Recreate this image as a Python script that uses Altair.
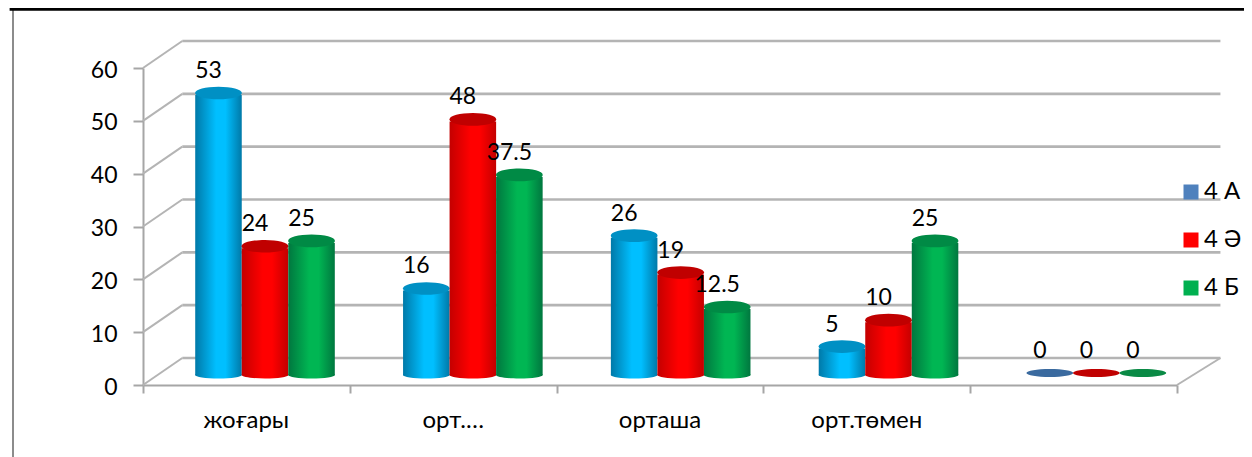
import altair as alt
import pandas as pd

categories = ["жоғары", "орт.…", "орташа", "орт.төмен", ""]
series_names = ["4 А", "4 Ә", "4 Б"]
values_a = [53, 16, 26, 5, 0]
values_b = [24, 48, 19, 10, 0]
values_c = [25, 37.5, 12.5, 25, 0]
legend_colors = ["#4F81BD", "#FF0000", "#00B050"]
edge_colors = ["#0079A8", "#C40000", "#00773F"]
mid_colors = ["#00BFFF", "#FF0000", "#00B653"]
cap_colors = ["#0090C4", "#C00000", "#008A45"]
flat_colors = ["#3A6A9F", "#C00000", "#0A8A45"]
FONT = "Lato"
GRID = "#B4B4B4"
AXIS = "#A6A6A6"
BAR_W = 0.225
DEPTH_X0, DEPTH_X1, DEPTH_Y = 0.19, 5.21, 5.11
ticks = [0, 10, 20, 30, 40, 50, 60]
x_ticks = [0, 1, 2, 3, 4, 5]

xs = alt.Scale(domain=[0, 5], nice=False, zero=False)
ys = alt.Scale(domain=[0, 60], nice=False, zero=False)
x_axis = alt.Axis(title=None, values=x_ticks, labels=False, grid=False,
                  domainColor=AXIS, domainWidth=2, tickColor=AXIS, tickWidth=2, tickSize=8)
y_axis = alt.Axis(title=None, values=ticks, grid=False, domainColor=AXIS, domainWidth=2,
                  tickColor=AXIS, tickWidth=2, tickSize=10, labelPadding=16, labelOffset=2,
                  labelFont=FONT, labelFontSize=23, labelColor="#000000")
X = lambda f: alt.X(f, type="quantitative", scale=xs, axis=x_axis)
Y = lambda f: alt.Y(f, type="quantitative", scale=ys, axis=y_axis)

rows = []
for s, vals in enumerate([values_a, values_b, values_c]):
    for i, v in enumerate(vals):
        c = i * 1.005 + 0.59 + (s - 1) * BAR_W
        rows.append(dict(series=series_names[s], s=s, cat=categories[i], value=v,
                         xc=c, x0=c - BAR_W / 2, x1=c + BAR_W / 2, zero=0))
df = pd.DataFrame(rows)

grid = pd.DataFrame({"v": ticks})
grid["vb"] = grid.v + DEPTH_Y
grid["x0"], grid["xb"], grid["xe"], grid["f"] = 0, DEPTH_X0, DEPTH_X1, 5

layers = []
# back wall grid
layers.append(alt.Chart(grid).mark_rule(color=GRID, strokeWidth=2.6).encode(
    x=X("xb"), x2="xe", y=Y("vb")))
# side wall slants
layers.append(alt.Chart(grid).mark_rule(color=GRID, strokeWidth=2).encode(
    x=X("x0"), x2="xb", y=Y("v"), y2="vb"))
# floor right edge
layers.append(alt.Chart(grid[grid.v == 0]).mark_rule(color=GRID, strokeWidth=2).encode(
    x=X("f"), x2="xe", y=Y("v"), y2="vb"))

top_shape = "M -1 0 A 1 0.27 0 1 1 1 0 A 1 0.27 0 1 1 -1 0 Z"
bot_shape = "M -1 0 A 1 0.15 0 1 1 1 0 A 1 0.15 0 1 1 -1 0 Z"
flat_shape = "M -1 0 A 1 0.17 0 1 1 1 0 A 1 0.17 0 1 1 -1 0 Z"
CAP_SIZE = 2190

for s in range(3):
    sd = df[(df.s == s) & (df.value > 0)]
    z = df[(df.s == s) & (df.value == 0)]
    grad = {"gradient": "linear", "x1": 0, "x2": 1, "y1": 0, "y2": 0, "stops": [
        {"offset": 0, "color": edge_colors[s]},
        {"offset": 0.45, "color": mid_colors[s]},
        {"offset": 0.65, "color": mid_colors[s]},
        {"offset": 1, "color": edge_colors[s]}]}
    layers.append(alt.Chart(sd).mark_point(shape=bot_shape, filled=True, opacity=1, size=CAP_SIZE,
                                           strokeWidth=0, color=grad, yOffset=-10).encode(
        x=X("xc"), y=Y("zero")))
    layers.append(alt.Chart(sd).mark_bar(color=grad, yOffset=-10, y2Offset=-10).encode(
        x=X("x0"), x2="x1", y=Y("value"), y2="zero"))
    layers.append(alt.Chart(sd).mark_point(shape=top_shape, filled=True, opacity=1, size=CAP_SIZE,
                                           strokeWidth=0, color=cap_colors[s], yOffset=-12).encode(
        x=X("xc"), y=Y("value")))
    layers.append(alt.Chart(z).mark_point(shape=flat_shape, filled=True, opacity=1, size=CAP_SIZE,
                                          strokeWidth=0, color=flat_colors[s], yOffset=-12).encode(
        x=X("xc"), y=Y("value")))

# data labels
layers.append(alt.Chart(df).mark_text(font=FONT, fontSize=23, color="#000000", dx=-10, dy=-34).encode(
    x=X("xc"), y=Y("value"), text=alt.Text("value:Q", format="~g")))

# category labels
cat_df = pd.DataFrame({"cat": categories, "u": [i + 0.5 for i in range(5)], "v": -6.8})
cat_df = cat_df[cat_df.cat != ""]
layers.append(alt.Chart(cat_df).mark_text(font=FONT, fontSize=24, color="#000000").encode(
    x=X("u"), y=Y("v"), text="cat:N"))

# legend
layers.append(alt.Chart(df).mark_point(filled=True, opacity=1, size=0).encode(
    x=X("zero"), y=Y("zero"),
    color=alt.Color("series:N", scale=alt.Scale(domain=series_names, range=legend_colors),
                    legend=alt.Legend(orient="none", legendX=1036, legendY=112, title=None,
                                      symbolType="square", symbolSize=225, symbolOpacity=1,
                                      symbolStrokeWidth=0, rowPadding=24, labelFont=FONT,
                                      labelFontSize=24, labelColor="#000000", labelOffset=1))))

# document frame and the bottom edge of the table above the chart
frame_left = pd.DataFrame({"x": [-0.6286], "y": [71.0], "y2": [-13.7]})
frame_top = pd.DataFrame({"x": [-0.645], "x2": [5.4], "y": [71.1]})
table_cols = pd.DataFrame({"x": [0.972, 1.939, 3.173, 4.130]})
table_cols["y"], table_cols["y2"] = 72.5, 71.1
layers.append(alt.Chart(frame_left).mark_rule(color="#8C8C8C", strokeWidth=2).encode(
    x=X("x"), y=Y("y"), y2="y2"))
layers.append(alt.Chart(frame_top).mark_rule(color="#000000", strokeWidth=3).encode(
    x=X("x"), x2="x2", y=Y("y")))
layers.append(alt.Chart(table_cols).mark_rule(color="#000000", strokeWidth=2).encode(
    x=X("x"), y=Y("y"), y2="y2"))

chart = alt.layer(*layers).properties(
    width=1034, height=317,
    autosize=alt.AutoSizeParams(type="none"),
    padding={"left": 135, "top": 60, "right": 67, "bottom": 72},
).configure_view(stroke=None)

chart.save("out.html", embed_options={"renderer": "svg", "actions": False})
